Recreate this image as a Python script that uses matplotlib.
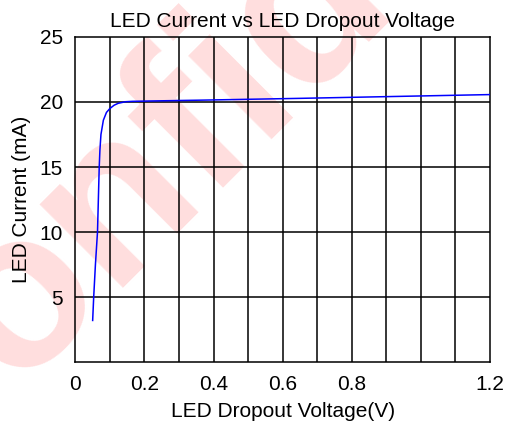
import numpy as np
import matplotlib
matplotlib.use("Agg")
import matplotlib.pyplot as plt

plt.rcParams['font.family'] = ['Liberation Sans', 'DejaVu Sans']

# curve
dropout_v = [0.050, 0.053, 0.058, 0.064, 0.069, 0.071, 0.074, 0.081, 0.090, 0.100,
             0.112, 0.124, 0.145, 0.165, 0.200, 0.360, 0.650, 1.200]
led_ma = [3.2, 5.0, 7.5, 10.0, 15.0, 16.3, 17.5, 18.6, 19.2, 19.5,
          19.75, 19.9, 20.02, 20.05, 20.07, 20.14, 20.28, 20.57]

x_ticks = [0, 0.2, 0.4, 0.6, 0.8, 1.2]
x_tick_labels = ["0", "0.2", "0.4", "0.6", "0.8", "1.2"]
y_ticks = [5, 10, 15, 20, 25]
grid_v = np.arange(1, 12) / 10
grid_i = [5, 10, 15, 20]

fig = plt.figure(figsize=(5.06, 4.30), dpi=100)
ax = fig.add_axes([0.149, 0.158, 0.819, 0.756])
ax.set_facecolor('none')

# watermark behind everything
fig.text(-0.194, -0.165, "Confidential", fontsize=160, fontweight='bold',
         color='#ffdede', rotation=45, rotation_mode='anchor',
         ha='left', va='baseline', zorder=-5)

for v in grid_v:
    ax.axvline(v, color='black', lw=1.1, zorder=1)
for c in grid_i:
    ax.axhline(c, color='black', lw=1.1, zorder=1)

ax.plot(dropout_v, led_ma, color='blue', lw=1.1, zorder=3)

ax.set_xlim(0, 1.2)
ax.set_ylim(0, 25)
ax.set_xticks(x_ticks)
ax.set_xticklabels(x_tick_labels)
ax.set_yticks(y_ticks)
ax.tick_params(length=0, labelsize=15, pad=9)
for s in ax.spines.values():
    s.set_linewidth(1.1)

ax.set_title("LED Current vs LED Dropout Voltage", fontsize=15, pad=7)
ax.set_xlabel("LED Dropout Voltage(V)", fontsize=15, labelpad=6)
ax.set_ylabel("LED Current (mA)", fontsize=15, labelpad=6)

fig.savefig("out.png", dpi=100)
